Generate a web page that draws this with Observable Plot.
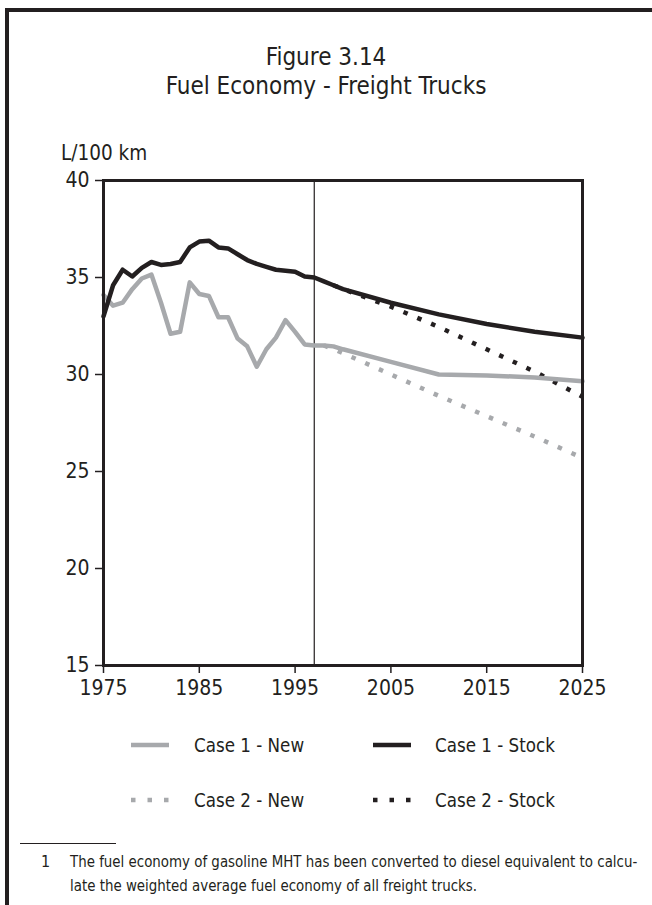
<!DOCTYPE html>
<html>
<head>
<meta charset="utf-8">
<script src="https://cdn.jsdelivr.net/npm/d3@7"></script>
<script src="https://cdn.jsdelivr.net/npm/@observablehq/plot@0.6"></script>
<style>
  html, body { margin: 0; padding: 0; background: #fff; }
  body { width: 652px; height: 905px; overflow: hidden; }
  #page { position: relative; width: 652px; height: 905px; font-family: "DejaVu Sans Condensed", "DejaVu Sans", sans-serif; color: #231f20; }
  #border { position: absolute; left: 5px; top: 8px; width: 647px; height: 897px; border-top: 4px solid #231f20; border-left: 4px solid #231f20; box-sizing: border-box; }
  .title { position: absolute; left: 0; width: 652px; text-align: center; font-size: 25px; line-height: 28px; transform: scaleX(0.96); transform-origin: 327px 0; }
  #t1 { top: 43px; }
  #t2 { top: 72px; }
  #ylabel { position: absolute; left: 61px; top: 141px; font-size: 20.5px; line-height: 24px; }
  #chart { position: absolute; left: 0; top: 130px; }
  .leg { position: absolute; font-size: 20px; line-height: 24px; white-space: nowrap; transform: scaleX(0.93); transform-origin: 0 0; }
  .sw { position: absolute; }
  #rule { position: absolute; left: 20px; top: 843px; width: 96px; border-top: 1px solid #231f20; }
  #fnnum { position: absolute; left: 41px; top: 850px; font-size: 16px; line-height: 24px; }
  #fntext { position: absolute; left: 70px; top: 850px; white-space: nowrap; font-size: 16px; line-height: 24px; transform: scaleX(0.93); transform-origin: 0 0; }
</style>
</head>
<body>
<div id="page">
  <div id="border"></div>
  <div id="t1" class="title">Figure 3.14</div>
  <div id="t2" class="title">Fuel Economy - Freight Trucks</div>
  <div id="ylabel">L/100 km</div>
  <div id="chart"></div>
  <div id="legend"></div>
  <div id="rule"></div>
  <div id="fnnum">1</div>
  <div id="fntext">The fuel economy of gasoline MHT has been converted to diesel equivalent to calcu-<br>late the weighted average fuel economy of all freight trucks.</div>
</div>
<script>
// ---- data ----
const case1NewYears = [1975,1976,1977,1978,1979,1980,1981,1982,1983,1984,1985,1986,1987,1988,1989,1990,1991,1992,1993,1994,1995,1996,1997,1998,1999,2000,2005,2010,2015,2020,2025];
const case1NewValues = [34.1,33.55,33.7,34.4,34.95,35.15,33.7,32.1,32.2,34.75,34.15,34.05,32.95,32.95,31.85,31.45,30.4,31.3,31.9,32.8,32.2,31.55,31.5,31.5,31.45,31.3,30.65,30.0,29.95,29.85,29.65];

const case1StockYears = [1975,1976,1977,1978,1979,1980,1981,1982,1983,1984,1985,1986,1987,1988,1989,1990,1991,1992,1993,1994,1995,1996,1997,1998,1999,2000,2005,2010,2015,2020,2025];
const case1StockValues = [33.0,34.6,35.4,35.05,35.5,35.8,35.65,35.7,35.8,36.55,36.85,36.9,36.55,36.5,36.2,35.9,35.7,35.55,35.4,35.35,35.3,35.05,35.0,34.8,34.6,34.4,33.7,33.1,32.6,32.2,31.9];

const case2NewYears = [1998,2000,2005,2010,2015,2020,2025];
const case2NewValues = [31.5,31.1,30.0,28.9,27.85,26.8,25.7];

const case2StockYears = [1999,2000,2005,2010,2015,2020,2025];
const case2StockValues = [34.6,34.4,33.5,32.45,31.3,30.15,28.85];

const xTicks = [1975,1985,1995,2005,2015,2025];
const yTicks = [15,20,25,30,35,40];
const baseYear = 1997;

const seriesNames = ["Case 1 - New","Case 1 - Stock","Case 2 - New","Case 2 - Stock"];

// ---- build ----
const BLACK = "#231f20", GREY = "#a7a9ac";
const toRows = (ys, vs) => ys.map((y, i) => ({year: y, value: vs[i]}));
const c1n = toRows(case1NewYears, case1NewValues);
const c1s = toRows(case1StockYears, case1StockValues);
const c2n = toRows(case2NewYears, case2NewValues);
const c2s = toRows(case2StockYears, case2StockValues);

const H = 590;
const chart = Plot.plot({
  width: 652,
  height: H,
  marginLeft: 103,
  marginRight: 70,
  marginTop: 50,
  marginBottom: 55,
  style: {fontFamily: '"DejaVu Sans Condensed", "DejaVu Sans", sans-serif', fontSize: "21px", color: BLACK, background: "transparent"},
  x: {domain: [1975, 2025]},
  y: {domain: [15, 40]},
  marks: [
    Plot.ruleX([baseYear], {stroke: BLACK, strokeWidth: 1.2}),
    Plot.line(c2n, {x: "year", y: "value", stroke: GREY, strokeWidth: 4.5, strokeDasharray: "4.5,10.5", strokeLinecap: "butt"}),
    Plot.line(c2s, {x: "year", y: "value", stroke: BLACK, strokeWidth: 4.5, strokeDasharray: "4.5,10.5", strokeLinecap: "butt"}),
    Plot.line(c1n, {x: "year", y: "value", stroke: GREY, strokeWidth: 4.5}),
    Plot.line(c1s, {x: "year", y: "value", stroke: BLACK, strokeWidth: 4.5}),
    Plot.frame({stroke: BLACK, strokeWidth: 3}),
    Plot.axisX({ticks: xTicks, tickFormat: d => String(d), tickSize: 8, tickPadding: 7, label: null, fontSize: 21, stroke: BLACK, strokeWidth: 1.5}),
    Plot.axisY({ticks: yTicks, tickSize: 8, tickPadding: 6, label: null, fontSize: 21, stroke: BLACK, strokeWidth: 1.5})
  ]
});
document.getElementById("chart").appendChild(chart);

// ---- legend ----
const legendItems = [
  {name: seriesNames[0], color: GREY, dash: null, sx: 131, tx: 194, cy: 745},
  {name: seriesNames[1], color: BLACK, dash: null, sx: 373, tx: 435, cy: 745},
  {name: seriesNames[2], color: GREY, dash: "4.5,12", sx: 131, tx: 194, cy: 800},
  {name: seriesNames[3], color: BLACK, dash: "4.5,12", sx: 373, tx: 435, cy: 800}
];
const legend = document.getElementById("legend");
for (const it of legendItems) {
  const sw = d3.create("svg").attr("class", "sw").attr("width", 40).attr("height", 10)
    .style("left", it.sx + "px").style("top", (it.cy - 5) + "px");
  sw.append("line").attr("x1", 0).attr("x2", 38).attr("y1", 5).attr("y2", 5)
    .attr("stroke", it.color).attr("stroke-width", 4.5)
    .attr("stroke-dasharray", it.dash);
  legend.appendChild(sw.node());
  const t = document.createElement("div");
  t.className = "leg";
  t.style.left = it.tx + "px";
  t.style.top = (it.cy - 12) + "px";
  t.textContent = it.name;
  legend.appendChild(t);
}
</script>
</body>
</html>
